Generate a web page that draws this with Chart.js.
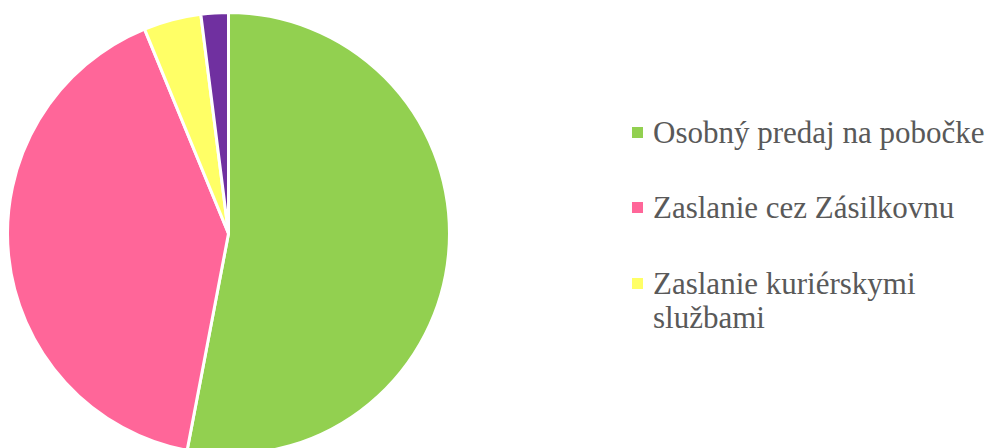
<!DOCTYPE html>
<html>
<head>
<meta charset="utf-8">
<script src="https://cdn.jsdelivr.net/npm/chart.js@4"></script>
<style>
@font-face { font-family: 'LegendSerif'; src: local('Liberation Serif'), local('LiberationSerif'), local('Times New Roman'); }
html, body { margin: 0; padding: 0; background: #fff; width: 997px; height: 448px; overflow: hidden; }
#wrap { position: absolute; left: 6px; top: 11px; width: 445px; height: 445px; }
#legend, #legend div, #legend span { font-family: 'Liberation Serif', 'LegendSerif', 'Times New Roman', Tinos, serif !important; }
#legend { position: absolute; left: 632px; top: 0; font-size: 31px; color: #595959; }
</style>
</head>
<body>
<div id="wrap"><canvas id="c"></canvas></div>
<div id="legend"></div>
<script>
const categories = ["Osobný predaj na pobočke", "Zaslanie cez Zásilkovnu", "Zaslanie kuriérskymi službami", "Iné"];
const values = [53.0, 40.8, 4.2, 2.0];
const colors = ["#92D050", "#FF6699", "#FFFF66", "#7030A0"];
const legendShown = 3;

new Chart(document.getElementById('c'), {
  type: 'pie',
  data: {
    labels: categories,
    datasets: [{ data: values, backgroundColor: colors, borderColor: '#ffffff', borderWidth: 3 }]
  },
  options: {
    responsive: true,
    maintainAspectRatio: false,
    animation: false,
    layout: { padding: 0 },
    plugins: { legend: { display: false }, tooltip: { enabled: false } }
  }
});

const lg = document.getElementById('legend');
const centers = [132.5, 207.5, 283.5];
for (let i = 0; i < legendShown; i++) {
  const it = document.createElement('div');
  Object.assign(it.style, { position: 'absolute', left: '0px', width: '365px', top: (centers[i] - 17) + 'px' });
  const sw = document.createElement('div');
  Object.assign(sw.style, { position: 'absolute', left: '0px', top: '11px', width: '11px', height: '11px', background: colors[i] });
  const tx = document.createElement('div');
  Object.assign(tx.style, { position: 'absolute', left: '21px', lineHeight: '34px', whiteSpace: 'nowrap' });
  tx.textContent = categories[i];
  it.appendChild(sw); it.appendChild(tx);
  lg.appendChild(it);
  if (tx.getBoundingClientRect().width > 360) {
    Object.assign(tx.style, { whiteSpace: 'normal', width: '300px' });
  }
}
</script>
</body>
</html>
